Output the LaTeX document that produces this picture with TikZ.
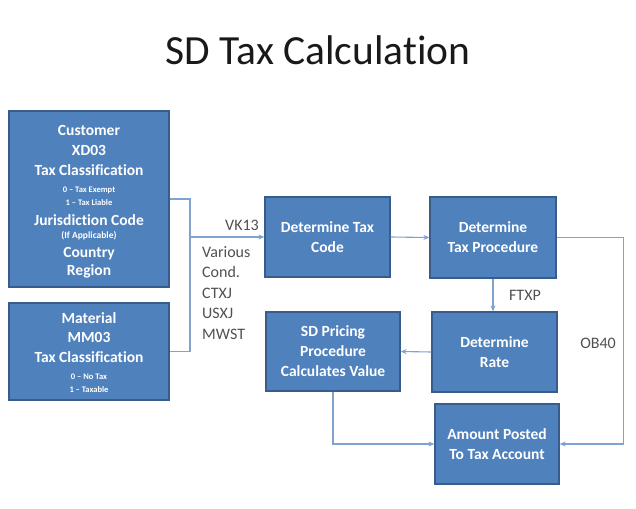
\documentclass[tikz,border=0pt]{standalone}
\usepackage{fontspec}
\setmainfont{Carlito}[Ligatures=NoCommon]
\usetikzlibrary{arrows.meta}
\definecolor{boxfill}{HTML}{4F81BD}
\definecolor{boxline}{HTML}{385D8A}
\definecolor{conn}{HTML}{7FA2D0}
\definecolor{lbl}{HTML}{505050}
\tikzset{
  blk/.style={draw=boxline, line width=1.2pt, fill=boxfill, text=white, align=center,
    inner sep=2pt, font=\fontsize{15.5}{20}\selectfont\bfseries},
  blktext/.style={text=white, align=center, inner sep=0pt, font=\fontsize{15.5}{20}\selectfont\bfseries},
  conline/.style={draw=conn, line width=1.1pt},
  arr/.style={conline, -{Stealth[length=6pt,width=5pt]}},
  lab/.style={text=lbl, font=\fontsize{16}{20.5}\selectfont, inner sep=0pt}
}
\newcommand{\smalltx}[1]{{\fontsize{8.5}{10}\selectfont #1}}
\newcommand{\tinytx}[1]{{\fontsize{9.5}{10}\selectfont #1}}
\begin{document}
\begin{tikzpicture}[x=1pt,y=-1pt]
\useasboundingbox (0,0) rectangle (636,508);
\node[text=black!90, font=\fontsize{41.5}{44}\selectfont, inner sep=0pt] (title) at (318,50) {SD Tax Calculation};

\node[blk, minimum width=160pt, minimum height=176pt] (cust) at (89,199) {};
\node[blktext] (custtext) at (89,202)
  {Customer\\ XD03\\ Tax Classification\\[-3pt]
   \smalltx{0 -- Tax Exempt}\\[-7pt] \smalltx{1 -- Tax Liable}\\[0pt]
   Jurisdiction Code\\[-7pt] \tinytx{(If Applicable)}\\[-1pt] Country\\[-2pt] Region};
\node[blk, minimum width=160pt, minimum height=97pt] (mat) at (89,351.5) {};
\node[blktext] (mattext) at (89,353)
  {Material\\[-1pt] MM03\\ Tax Classification\\[-3pt]
   \smalltx{0 -- No Tax}\\[-7pt] \smalltx{1 -- Taxable}};

\node[blk, minimum width=125pt, minimum height=80pt] (code) at (327.5,237) {Determine Tax\\ Code};
\node[blk, minimum width=126pt, minimum height=81pt] (proc) at (493,237.5) {Determine\\ Tax Procedure};
\node[blk, minimum width=134pt, minimum height=79pt] (pricing) at (333,351.5) {SD Pricing\\ Procedure\\ Calculates Value};
\node[blk, minimum width=125pt, minimum height=80pt] (rate) at (494.5,352) {Determine\\ Rate};
\node[blk, minimum width=124pt, minimum height=80pt] (post) at (497,444) {Amount Posted\\ To Tax Account};

\coordinate (bus) at (190,237);
\draw[conline] (cust.east) -| (bus) |- (mat.east);
\draw[arr] (bus) -- (code.west);
\draw[arr] (code.east) -- (proc.west);
\draw[arr] (proc.south) -- (proc.south |- rate.north);
\draw[arr] (proc.east) -- ++(67,0) |- (post.east);
\draw[arr] (rate.west) -- (pricing.east);
\draw[arr] (pricing.south) |- (post.west);

\node[lab] (vk) at (242,225) {VK13};
\node[lab, anchor=north west, align=left] (cond) at (202,246) {Various\\ Cond.\\ CTXJ\\ USXJ\\ MWST};
\node[lab] (ftxp) at (525,295) {FTXP};
\node[lab] (ob) at (598,343) {OB40};
\end{tikzpicture}
\end{document}
